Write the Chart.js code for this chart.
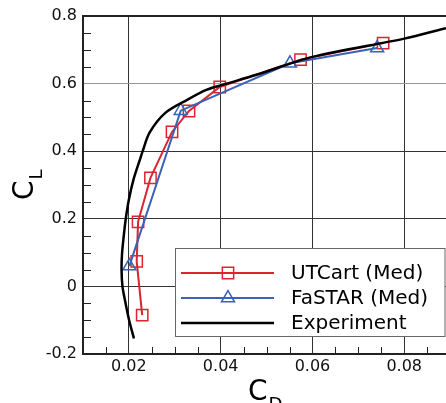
<!DOCTYPE html>
<html>
<head>
<meta charset="utf-8">
<script src="https://cdn.jsdelivr.net/npm/chart.js@4/dist/chart.umd.min.js"></script>
<style>
  html, body { margin: 0; padding: 0; background: #fff; }
  #wrap { width: 446px; height: 403px; }
</style>
</head>
<body>
<div id="wrap"><canvas id="myChart"></canvas></div>
<script>
// values
const seriesLabels = ["UTCart (Med)", "FaSTAR (Med)", "Experiment"];

const utcartCD = [0.0229, 0.0217, 0.0220, 0.0247, 0.0294, 0.0331, 0.0398, 0.0574, 0.0754];
const utcartCL = [-0.085, 0.074, 0.191, 0.321, 0.457, 0.519, 0.590, 0.671, 0.720];

const fastarCD = [0.0201, 0.0313, 0.0551, 0.0741];
const fastarCL = [0.060, 0.520, 0.660, 0.705];

const expCD = [0.0211, 0.0200, 0.0191, 0.0186, 0.0184, 0.0185, 0.0188, 0.0193, 0.0200, 0.0210,
  0.0224, 0.0230, 0.0245, 0.0280, 0.0327, 0.0370, 0.0406, 0.0478, 0.0600, 0.0800, 0.0891];
const expCL = [-0.154, -0.097, -0.038, 0.000, 0.050, 0.095, 0.139, 0.198, 0.257, 0.316,
  0.375, 0.400, 0.455, 0.514, 0.552, 0.582, 0.597, 0.626, 0.679, 0.733, 0.764];

const xTicks = [0.02, 0.04, 0.06, 0.08];
const xTickLabels = ["0.02", "0.04", "0.06", "0.08"];
const yTicks = [-0.2, 0, 0.2, 0.4, 0.6, 0.8];
const yTickLabels = ["-0.2", "0", "0.2", "0.4", "0.6", "0.8"];
const xMinor = [0.015, 0.025, 0.03, 0.035, 0.045, 0.05, 0.055, 0.065, 0.07, 0.075, 0.085];
const yMinor = [-0.15, -0.1, -0.05, 0.05, 0.1, 0.15, 0.25, 0.3, 0.35, 0.45, 0.5, 0.55, 0.65, 0.7, 0.75];

const RED = "#dc2430";
const BLUE = "#3a62b6";
const BLACK = "#000000";
const FONT = "DejaVu Sans";

function pts(xs, ys) {
  return xs.map((x, i) => ({ x: x, y: ys[i] }));
}

function labelFor(vals, labels, v) {
  const i = vals.findIndex((t) => Math.abs(t - v) < 1e-9);
  return i >= 0 ? labels[i] : "";
}

function drawMarker(ctx, style, x, y, r) {
  ctx.beginPath();
  if (style === "rect") {
    const s = Math.SQRT1_2 * r;
    ctx.rect(x - s, y - s, 2 * s, 2 * s);
  } else {
    const h = r * Math.sin(Math.PI / 3);
    ctx.moveTo(x, y - r);
    ctx.lineTo(x + h, y + r / 2);
    ctx.lineTo(x - h, y + r / 2);
    ctx.closePath();
  }
  ctx.stroke();
}

const decor = {
  id: "decor",
  afterDatasetsDraw(chart) {
    const ctx = chart.ctx;
    const a = chart.chartArea;
    const xs = chart.scales.x;
    const ys = chart.scales.y;
    ctx.save();
    // minor ticks
    ctx.strokeStyle = "#222";
    ctx.lineWidth = 1;
    ctx.beginPath();
    xMinor.forEach((v) => {
      const px = Math.round(xs.getPixelForValue(v)) + 0.5;
      ctx.moveTo(px, a.bottom);
      ctx.lineTo(px, a.bottom - 7);
    });
    yMinor.forEach((v) => {
      const py = Math.round(ys.getPixelForValue(v)) + 0.5;
      ctx.moveTo(a.left, py);
      ctx.lineTo(a.left + 8, py);
    });
    ctx.stroke();
    // frame
    ctx.lineWidth = 2;
    ctx.beginPath();
    ctx.moveTo(a.right, a.top);
    ctx.lineTo(a.left, a.top);
    ctx.lineTo(a.left, a.bottom);
    ctx.lineTo(a.right, a.bottom);
    ctx.stroke();
    ctx.restore();
  },
  afterDraw(chart) {
    const ctx = chart.ctx;
    const a = chart.chartArea;
    ctx.save();
    // legend
    const bx = 175.5, by = 248.5, bw = a.right - 1 - bx, bh = 88;
    ctx.fillStyle = "#fff";
    ctx.fillRect(bx, by, bw, bh);
    ctx.strokeStyle = "#666";
    ctx.lineWidth = 1;
    ctx.strokeRect(bx, by, bw, bh);
    const rows = [273, 298, 323];
    seriesLabels.forEach((name, k) => {
      const ds = chart.data.datasets.find((d) => d.label === name);
      const y = rows[k];
      ctx.strokeStyle = ds.borderColor;
      ctx.lineWidth = ds.borderWidth;
      ctx.beginPath();
      ctx.moveTo(181, y);
      ctx.lineTo(274, y);
      ctx.stroke();
      if (ds.pointRadius > 0) {
        ctx.lineWidth = 1.5;
        ctx.fillStyle = "#fff";
        drawMarker(ctx, ds.pointStyle, 228, y, ds.pointRadius);
      }
      ctx.fillStyle = "#000";
      ctx.font = "20px '" + FONT + "'";
      ctx.textAlign = "left";
      ctx.textBaseline = "middle";
      ctx.fillText(ds.label, 291, y + 1);
    });
    // axis titles
    ctx.fillStyle = "#000";
    ctx.textBaseline = "alphabetic";
    ctx.textAlign = "left";
    ctx.font = "28px '" + FONT + "'";
    const cw = ctx.measureText("C").width;
    ctx.fillText("C", 248, 400);
    ctx.font = "18px '" + FONT + "'";
    ctx.fillText("D", 248 + cw + 1, 410);

    ctx.translate(33, 200);
    ctx.rotate(-Math.PI / 2);
    ctx.font = "28px '" + FONT + "'";
    ctx.fillText("C", 0, 0);
    ctx.font = "18px '" + FONT + "'";
    ctx.fillText("L", cw + 1, 9);
    ctx.restore();
  },
};

const ctx = document.getElementById("myChart");

new Chart(ctx, {
  type: "scatter",
  data: {
    datasets: [
      {
        label: seriesLabels[2],
        data: pts(expCD, expCL),
        showLine: true,
        borderColor: BLACK,
        borderWidth: 2.5,
        pointRadius: 0,
        tension: 0.3,
        order: 0,
      },
      {
        label: seriesLabels[1],
        data: pts(fastarCD, fastarCL),
        showLine: true,
        borderColor: BLUE,
        backgroundColor: "rgba(0,0,0,0)",
        borderWidth: 2,
        pointStyle: "triangle",
        pointRadius: 7.5,
        pointBorderWidth: 1.5,
        order: 1,
      },
      {
        label: seriesLabels[0],
        data: pts(utcartCD, utcartCL),
        showLine: true,
        borderColor: RED,
        backgroundColor: "rgba(0,0,0,0)",
        borderWidth: 2,
        pointStyle: "rect",
        pointRadius: 8,
        pointBorderWidth: 1.5,
        order: 2,
      },
    ],
  },
  options: {
    responsive: true,
    maintainAspectRatio: false,
    animation: false,
    layout: { autoPadding: false, padding: { top: 16, right: 0, left: 0, bottom: 0 } },
    plugins: {
      legend: { display: false },
      tooltip: { enabled: false },
    },
    scales: {
      x: {
        type: "linear",
        min: 0.01,
        max: 0.0891,
        afterBuildTicks: (scale) => {
          scale.ticks = xTicks.map((v) => ({ value: v }));
        },
        afterFit: (scale) => {
          scale.height = 49;
          scale.paddingLeft = 0;
          scale.paddingRight = 0;
        },
        ticks: {
          color: "#111",
          padding: 3,
          maxRotation: 0,
          font: { size: 16, family: FONT },
          callback: (v) => labelFor(xTicks, xTickLabels, v),
        },
        grid: { color: "#333", lineWidth: 1, drawTicks: false },
        border: { display: false },
      },
      y: {
        type: "linear",
        min: -0.2,
        max: 0.8,
        afterBuildTicks: (scale) => {
          scale.ticks = yTicks.map((v) => ({ value: v }));
        },
        afterFit: (scale) => {
          scale.width = 83;
          scale.paddingTop = 0;
          scale.paddingBottom = 0;
        },
        ticks: {
          color: "#111",
          padding: 6,
          font: { size: 16, family: FONT },
          callback: (v) => labelFor(yTicks, yTickLabels, v),
        },
        grid: {
          color: (c) => (c.tick && Math.abs(c.tick.value - 0.6) < 1e-9 ? "#999" : "#333"),
          lineWidth: 1,
          drawTicks: false,
        },
        border: { display: false },
      },
    },
  },
  plugins: [decor],
});
</script>
</body>
</html>
